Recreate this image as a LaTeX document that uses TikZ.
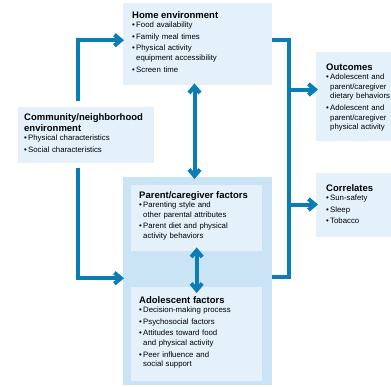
\documentclass[tikz,border=0pt]{standalone}
\usepackage{fontspec}
\setmainfont{Liberation Sans}
\usetikzlibrary{arrows.meta}
\definecolor{boxfill}{RGB}{228,241,250}
\definecolor{outerfill}{RGB}{203,228,245}
\definecolor{arrowblue}{RGB}{10,125,181}
\newcommand{\ttl}[1]{{\fontsize{9.5}{11}\selectfont\bfseries #1\par}}
\newcommand{\fitm}[1]{\par\hangindent=4pt\hangafter=1\noindent\makebox[4pt][l]{\textbullet}#1\par}
\newcommand{\bitm}[1]{\vspace{2pt}\hangindent=4pt\hangafter=1\noindent\makebox[4pt][l]{\textbullet}#1\par}
\tikzset{
  box/.style={fill=boxfill, draw=none, inner sep=0pt, anchor=north west},
  outerbox/.style={fill=outerfill, draw=none, inner sep=0pt, anchor=north west},
  txt/.style={inner sep=0pt, anchor=base west, text width=#1, align=left, font=\fontsize{7.8}{9.6}\selectfont},
  conn/.style={draw=arrowblue, line width=4pt, line join=miter},
  arr/.style={conn, -{Straight Barb[length=6.5pt,width=11pt]}},
  darr/.style={conn, {Straight Barb[length=6.5pt,width=11pt]}-{Straight Barb[length=6.5pt,width=11pt]}},
}
\begin{document}
\begin{tikzpicture}[x=1pt,y=-1pt]
\useasboundingbox (0,0) rectangle (391,386);
\clip (0,0) rectangle (391,386);
% boxes
\node[box, minimum width=149pt, minimum height=82pt] (home) at (123,3) {};
\node[box, minimum width=136pt, minimum height=56pt] (comm) at (18,107) {};
\node[outerbox, minimum width=149pt, minimum height=208pt] (outer) at (123,177) {};
\node[box, minimum width=131pt, minimum height=66pt] (parent) at (131,185) {};
\node[box, minimum width=131pt, minimum height=94pt] (adol) at (131,287) {};
\node[box, minimum width=80pt, minimum height=89pt] (outc) at (316,52) {};
\node[box, minimum width=80pt, minimum height=64pt] (corr) at (316,173) {};
% texts
\node[txt=140pt] (hometxt) at (132,18) {\ttl{Home environment}\fitm{Food availability}\bitm{Family meal times}\bitm{Physical activity\newline equipment accessibility}\bitm{Screen time}};
\node[txt=130pt] (commtxt) at (24,120) {\ttl{Community/neighborhood\newline environment}\fitm{Physical characteristics}\bitm{Social characteristics}};
\node[txt=125pt] (parenttxt) at (139,198) {\ttl{Parent/caregiver factors}\fitm{Parenting style and\newline other parental attributes}\bitm{Parent diet and physical\newline activity behaviors}};
\node[txt=125pt] (adoltxt) at (139,303) {\ttl{Adolescent factors}\fitm{Decision-making process}\bitm{Psychosocial factors}\bitm{Attitudes toward food\newline and physical activity}\bitm{Peer influence and\newline social support}};
\node[txt=80pt] (outctxt) at (326,70) {\ttl{Outcomes}\fitm{Adolescent and\newline parent/caregiver\newline dietary behaviors}\bitm{Adolescent and\newline parent/caregiver\newline physical activity}};
\node[txt=70pt] (corrtxt) at (326,191) {\ttl{Correlates}\fitm{Sun-safety}\bitm{Sleep}\bitm{Tobacco}};
% connectors
\coordinate (cu) at (78,101);
\coordinate (cd) at (78,168);
\draw[arr] (cu) |- ([xshift=1pt,yshift=4pt]home.west);
\draw[arr] (cd) |- ([xshift=1pt,yshift=3pt]outer.west);
\draw[darr] ([xshift=-3.2pt,yshift=2pt]home.south) -- ([xshift=-3.2pt,yshift=-2pt]home.south |- outer.north);
\draw[darr] ([yshift=4pt]parent.south) -- ([yshift=-6pt]adol.north);
\draw[conn] ([yshift=4.5pt]home.east) -- ++(17,0) coordinate (br) |- ([yshift=4.5pt]outer.east);
\coordinate (j1) at (289,89.5);
\coordinate (j2) at (289,204.5);
\draw[arr] (j1) -- ([xshift=2pt]outc.west |- j1);
\draw[arr] (j2) -- ([xshift=2pt]corr.west |- j2);
\end{tikzpicture}
\end{document}
